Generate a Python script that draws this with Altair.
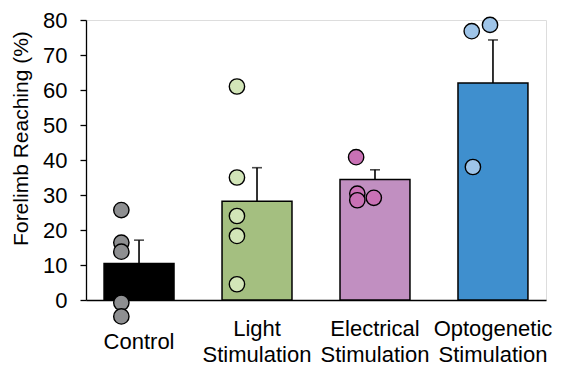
import altair as alt
import pandas as pd

# ---- data ----
groups = ["Control", "Light Stimulation", "Electrical Stimulation", "Optogenetic Stimulation"]
means = [10.4, 28.2, 34.4, 62.0]
upper = [17.1, 37.8, 37.2, 74.3]
bar_colors = ["#000000", "#a4bf80", "#c18fc1", "#3f8fce"]
dot_colors = ["#8e8f91", "#d2e5b8", "#c971b5", "#9ec4e8"]

point_group = (["Control"] * 5 + ["Light Stimulation"] * 5
               + ["Electrical Stimulation"] * 4 + ["Optogenetic Stimulation"] * 3)
point_values = [25.7, 16.4, 13.8, -0.8, -4.7,
                61.0, 35.0, 24.0, 18.3, 4.5,
                40.8, 30.4, 28.5, 29.2,
                76.8, 78.6, 38.0]
# horizontal jitter of each dot, as a fraction of one category step (negative = left of bar centre)
point_jitter = [-0.15] * 5 + [-0.17] * 5 + [-0.16, -0.15, -0.15, -0.01] + [-0.18, -0.025, -0.17]

y_ticks = [0, 10, 20, 30, 40, 50, 60, 70, 80]

bars_df = pd.DataFrame({"group": groups, "mean": means, "upper": upper, "fillc": bar_colors})
pts_df = pd.DataFrame({
    "group": point_group,
    "idx": [groups.index(g) for g in point_group],
    "value": point_values,
    "jitter": point_jitter,
    "fillc": [dot_colors[groups.index(g)] for g in point_group],
})

FONT = "Liberation Sans"
P_IN, P_OUT = 0.407, 0.153
n = len(groups)
span = n - P_IN + 2 * P_OUT           # width of the band scale in steps
first_centre = P_OUT + (1 - P_IN) / 2  # centre of the first band in steps

x_scale = alt.Scale(paddingInner=P_IN, paddingOuter=P_OUT)
x_axis = alt.Axis(
    title=None, labelAngle=0, ticks=False, labelExpr="split(datum.label, ' ')",
    labelFontSize=22, labelFont=FONT, labelColor="#000", labelBaseline="middle",
    labelPadding={"condition": {"test": "datum.value === 'Control'", "value": 41}, "value": 28},
    labelLineHeight=26, domainColor="#000", domainWidth=1.3,
)
y_scale = alt.Scale(domain=[0, 80], nice=False)
y_axis = alt.Axis(
    title="Forelimb Reaching (%)", values=y_ticks, tickCount=9, grid=False, labelOverlap=False,
    labelFontSize=22, labelFont=FONT, labelColor="#000", labelPadding=13,
    tickSize=6, tickColor="#000", tickWidth=1.3, domainColor="#000", domainWidth=1.3,
    titleFontSize=21, titleFont=FONT, titleFontWeight="normal", titleColor="#000",
    titleX=-65, titleY=118, titleAlign="center", titleBaseline="middle", titleAngle=270,
)


def xe():
    return alt.X("group:N", sort=groups, scale=x_scale, axis=x_axis)


bars = alt.Chart(bars_df).mark_bar(stroke="#000", strokeWidth=1.5).encode(
    x=xe(),
    y=alt.Y("mean:Q", scale=y_scale, axis=y_axis),
    fill=alt.Fill("fillc:N", scale=None),
)

err_rule = alt.Chart(bars_df).mark_rule(color="#000", strokeWidth=1.6).encode(
    x=xe(),
    y=alt.Y("mean:Q", scale=y_scale, axis=y_axis),
    y2="upper:Q",
)
err_cap = alt.Chart(bars_df).mark_tick(color="#000", size=10, thickness=1.6).encode(
    x=xe(),
    y=alt.Y("upper:Q", scale=y_scale, axis=y_axis),
)

dots = alt.Chart(pts_df).transform_calculate(
    xpos="datum.idx + datum.jitter"
).mark_circle(size=235, opacity=1, stroke="#000", strokeWidth=1.4).encode(
    x=alt.X("xpos:Q", axis=None,
            scale=alt.Scale(domain=[-first_centre, span - first_centre], nice=False, zero=False)),
    y=alt.Y("value:Q", scale=y_scale, axis=y_axis),
    fill=alt.Fill("fillc:N", scale=None),
)

base = alt.layer(bars, err_rule, err_cap)

chart = alt.layer(base, dots).resolve_scale(x="independent").properties(
    width=460, height=280,
    autosize=alt.AutoSizeParams(type="none"),
    padding={"left": 78, "top": 12, "right": 17, "bottom": 75},
).configure_view(stroke=None).configure(font=FONT)

chart.save("out.html", embed_options={"renderer": "svg", "actions": False})
